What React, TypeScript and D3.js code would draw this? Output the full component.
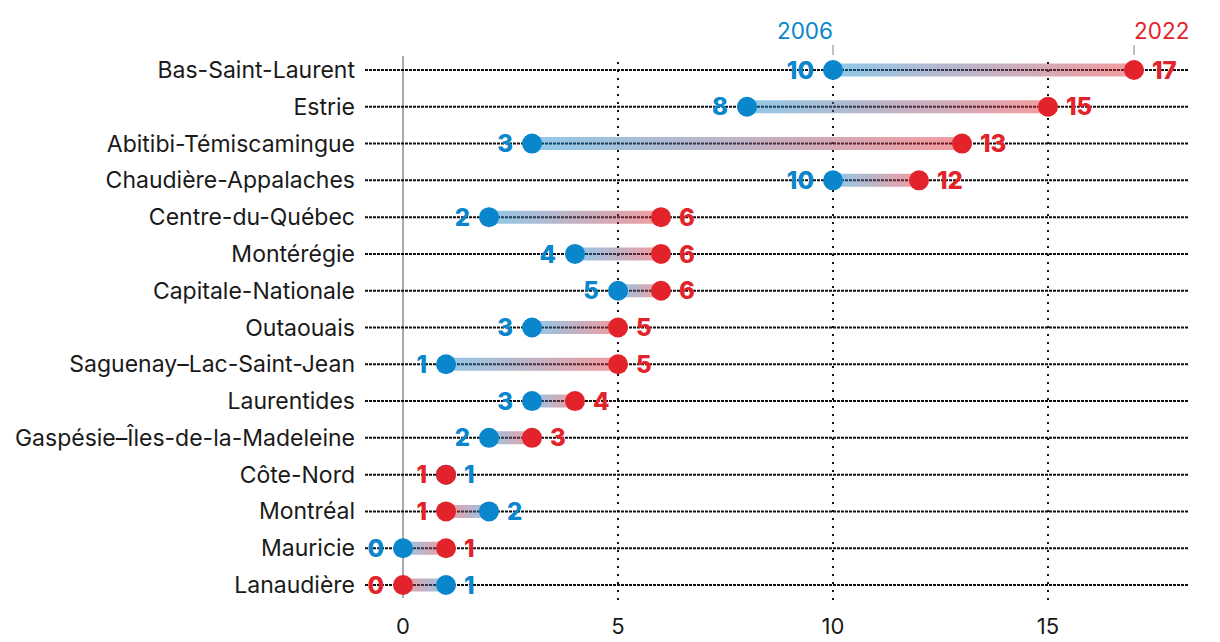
import { useEffect, useRef } from 'react';
import * as d3 from 'd3';

const regions = [
  'Bas-Saint-Laurent',
  'Estrie',
  'Abitibi-Témiscamingue',
  'Chaudière-Appalaches',
  'Centre-du-Québec',
  'Montérégie',
  'Capitale-Nationale',
  'Outaouais',
  'Saguenay–Lac-Saint-Jean',
  'Laurentides',
  'Gaspésie–Îles-de-la-Madeleine',
  'Côte-Nord',
  'Montréal',
  'Mauricie',
  'Lanaudière',
];
const values2006 = [10, 8, 3, 10, 2, 4, 5, 3, 1, 3, 2, 1, 2, 0, 1];
const values2022 = [17, 15, 13, 12, 6, 6, 6, 5, 5, 4, 3, 1, 1, 1, 0];
const xTicks = [0, 5, 10, 15];

const BLUE = '#0a86cc';
const RED = '#e3232b';
const FONT = 'Inter, "Noto Sans", sans-serif';

export default function App() {
  const svgRef = useRef<SVGSVGElement | null>(null);

  useEffect(() => {
    if (!svgRef.current) return;
    const width = 1220;
    const height = 642;
    const svg = d3.select(svgRef.current).attr('width', width).attr('height', height);
    svg.selectAll('*').remove();

    const x = d3.scaleLinear().domain([0, 15]).range([403, 1048]);
    const y = d3.scalePoint<string>().domain(regions).range([70, 585]);
    const lineLeft = 365;
    const lineRight = 1188;

    const rows = regions.map((name, i) => ({ name, a: values2006[i], b: values2022[i], i }));
    const defs = svg.append('defs');

    // zero line
    svg
      .append('line')
      .attr('x1', x(0))
      .attr('x2', x(0))
      .attr('y1', 56)
      .attr('y2', 598)
      .attr('stroke', '#aaa')
      .attr('stroke-width', 2);

    // vertical dotted grid
    svg
      .append('g')
      .selectAll('line')
      .data(xTicks.filter((t) => t > 0))
      .join('line')
      .attr('x1', (d) => x(d))
      .attr('x2', (d) => x(d))
      .attr('y1', 62)
      .attr('y2', 600)
      .attr('stroke', '#111')
      .attr('stroke-width', 2)
      .attr('stroke-dasharray', '2 6');

    // row lines
    svg
      .append('g')
      .selectAll('line')
      .data(regions)
      .join('line')
      .attr('x1', lineLeft)
      .attr('x2', lineRight)
      .attr('y1', (d) => y(d)!)
      .attr('y2', (d) => y(d)!)
      .attr('stroke', '#111')
      .attr('stroke-width', 2)
      .attr('stroke-dasharray', '3 1');

    // row labels
    svg
      .append('g')
      .selectAll('text')
      .data(regions)
      .join('text')
      .attr('x', 355)
      .attr('y', (d) => y(d)!)
      .attr('dy', '0.35em')
      .attr('text-anchor', 'end')
      .attr('font-family', FONT)
      .attr('font-size', 23)
      .attr('fill', '#1a1a1a')
      .text((d) => d);

    // segments with gradient
    rows.forEach((r) => {
      if (r.a === r.b) return;
      const id = `grad-${r.i}`;
      const g = defs
        .append('linearGradient')
        .attr('id', id)
        .attr('gradientUnits', 'userSpaceOnUse')
        .attr('x1', x(r.a))
        .attr('x2', x(r.b))
        .attr('y1', 0)
        .attr('y2', 0);
      g.append('stop').attr('offset', '0%').attr('stop-color', BLUE);
      g.append('stop').attr('offset', '100%').attr('stop-color', RED);
      svg
        .append('line')
        .attr('x1', x(r.a))
        .attr('x2', x(r.b))
        .attr('y1', y(r.name)!)
        .attr('y2', y(r.name)!)
        .attr('stroke', `url(#${id})`)
        .attr('stroke-width', 13)
        .attr('stroke-opacity', 0.45);
    });

    // dots: blue first, red on top
    svg
      .append('g')
      .selectAll('circle')
      .data(rows)
      .join('circle')
      .attr('cx', (d) => x(d.a))
      .attr('cy', (d) => y(d.name)!)
      .attr('r', 10)
      .attr('fill', BLUE);
    svg
      .append('g')
      .selectAll('circle')
      .data(rows)
      .join('circle')
      .attr('cx', (d) => x(d.b))
      .attr('cy', (d) => y(d.name)!)
      .attr('r', 10)
      .attr('fill', RED);

    // value labels
    const labels: { x: number; y: number; anchor: string; color: string; text: string }[] = [];
    rows.forEach((r) => {
      const yy = y(r.name)!;
      if (r.b > r.a) {
        labels.push({ x: x(r.a) - 19, y: yy, anchor: 'end', color: BLUE, text: String(r.a) });
        labels.push({ x: x(r.b) + 18, y: yy, anchor: 'start', color: RED, text: String(r.b) });
      } else {
        labels.push({ x: x(r.b) - 19, y: yy, anchor: 'end', color: RED, text: String(r.b) });
        labels.push({ x: x(r.a) + 18, y: yy, anchor: 'start', color: BLUE, text: String(r.a) });
      }
    });
    svg
      .append('g')
      .selectAll('text')
      .data(labels)
      .join('text')
      .attr('x', (d) => d.x)
      .attr('y', (d) => d.y)
      .attr('dy', '0.36em')
      .attr('text-anchor', (d) => d.anchor)
      .attr('font-family', FONT)
      .attr('font-size', 24)
      .attr('font-weight', 800)
      .attr('fill', (d) => d.color)
      .text((d) => d.text);

    // year headers
    const first = rows[0];
    const headers = [
      { v: first.a, text: '2006', color: BLUE, anchor: 'end' },
      { v: first.b, text: '2022', color: RED, anchor: 'start' },
    ];
    headers.forEach((h) => {
      svg
        .append('line')
        .attr('x1', x(h.v))
        .attr('x2', x(h.v))
        .attr('y1', 45)
        .attr('y2', 55)
        .attr('stroke', '#aaa')
        .attr('stroke-width', 1.5);
      svg
        .append('text')
        .attr('x', x(h.v))
        .attr('y', 39)
        .attr('text-anchor', h.anchor)
        .attr('font-family', FONT)
        .attr('font-size', 22.5)
        .attr('fill', h.color)
        .text(h.text);
    });

    // x axis tick labels
    svg
      .append('g')
      .selectAll('text')
      .data(xTicks)
      .join('text')
      .attr('x', (d) => x(d))
      .attr('y', 634)
      .attr('text-anchor', 'middle')
      .attr('font-family', FONT)
      .attr('font-size', 22)
      .attr('fill', '#1a1a1a')
      .text((d) => d);
  }, []);

  return (
    <div style={{ position: 'fixed', left: 0, top: 0, background: '#fff' }}>
      <svg ref={svgRef} style={{ display: 'block' }} />
    </div>
  );
}
